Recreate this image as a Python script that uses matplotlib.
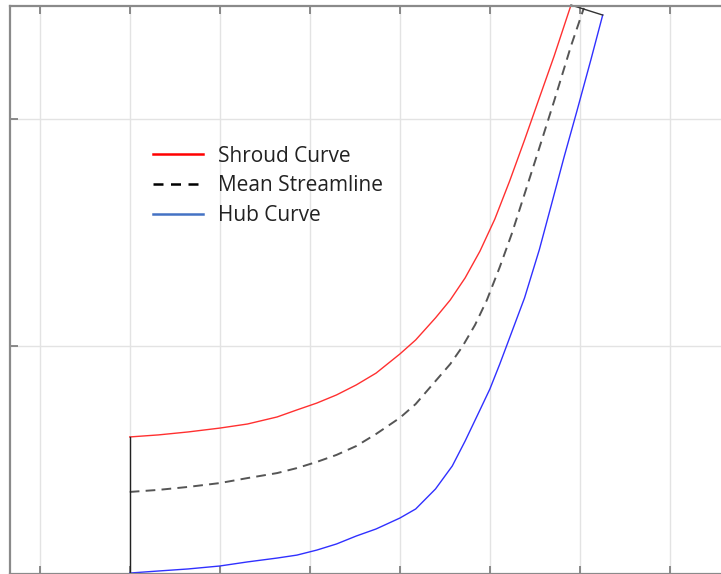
import matplotlib
matplotlib.use("Agg")
import matplotlib.pyplot as plt
from matplotlib.lines import Line2D
import numpy as np

# Meridional channel data (axial coordinate x, radial coordinate y)
shroud_x = [1.000, 1.319, 1.648, 2.000, 2.308, 2.637, 2.857, 3.077, 3.297, 3.516, 3.736, 4.000,
            4.176, 4.396, 4.560, 4.725, 4.890, 5.055, 5.220, 5.385, 5.549, 5.714, 5.901]
shroud_y = [0.601, 0.610, 0.623, 0.640, 0.658, 0.689, 0.720, 0.750, 0.786, 0.830, 0.882, 0.966,
            1.028, 1.125, 1.204, 1.301, 1.419, 1.560, 1.728, 1.908, 2.093, 2.278, 2.502]

mean_x = [1.000, 1.319, 1.648, 2.000, 2.308, 2.637, 2.857, 3.077, 3.297, 3.516, 3.736, 4.000,
          4.176, 4.396, 4.560, 4.692, 4.835, 4.967, 5.110, 5.242, 5.385, 5.549, 5.714, 5.901, 6.044]
mean_y = [0.359, 0.368, 0.381, 0.398, 0.420, 0.442, 0.464, 0.491, 0.522, 0.561, 0.614, 0.685,
          0.746, 0.847, 0.922, 0.997, 1.094, 1.204, 1.349, 1.494, 1.670, 1.873, 2.080, 2.322, 2.489]

hub_x = [1.000, 1.319, 1.648, 2.000, 2.308, 2.637, 2.857, 3.077, 3.297, 3.516, 3.736, 4.000,
         4.176, 4.396, 4.582, 4.725, 4.890, 5.000, 5.110, 5.198, 5.297, 5.385, 5.549, 5.681,
         5.824, 5.967, 6.121, 6.253]
hub_y = [0.002, 0.011, 0.020, 0.033, 0.051, 0.068, 0.081, 0.103, 0.130, 0.165, 0.196, 0.244,
         0.284, 0.372, 0.473, 0.583, 0.720, 0.812, 0.922, 1.015, 1.120, 1.213, 1.425, 1.620,
         1.833, 2.036, 2.260, 2.458]

legend_labels = ["Shroud Curve", "Mean Streamline", "Hub Curve"]

W, H = 721, 574
fig = plt.figure(figsize=(W / 100, H / 100), dpi=100)
fig.patch.set_facecolor("white")

# axes geometry in pixels (axes extends past the right edge of the picture)
left_px, right_px, top_px, bottom_px = 10, 760, 5.5, 573.5
ax = fig.add_axes([left_px / W, (H - bottom_px) / H, (right_px - left_px) / W, (bottom_px - top_px) / H])
ax.set_xlim((left_px - 40) / 91.0, (right_px - 40) / 91.0)
ax.set_ylim(0, 2.5)
ax.set_xticks(np.arange(0, 9))
ax.set_yticks([0, 1, 2])
ax.set_xticklabels([])
ax.set_yticklabels([])
ax.grid(True, color="#e3e3e3", linewidth=1.0)
ax.set_axisbelow(True)
ax.tick_params(direction="in", length=6, width=1.2, color="#777777",
               top=True, bottom=True, left=True, right=True)
for s in ax.spines.values():
    s.set_color("#8a8a8a")
    s.set_linewidth(1.6)

ax.plot(shroud_x, shroud_y, color="#ff3030", linewidth=1.0)
ax.plot(mean_x, mean_y, color="#555555", linewidth=1.4, linestyle=(0, (5, 3.2)))
ax.plot(hub_x, hub_y, color="#3030ff", linewidth=1.0)
# inlet and outlet edges
ax.plot([hub_x[0], shroud_x[0]], [hub_y[0], shroud_y[0]], color="#222222", linewidth=1.0)
ax.plot([shroud_x[-1], hub_x[-1]], [shroud_y[-1], hub_y[-1]], color="#333333", linewidth=1.0, clip_on=False)

fs = 15
fpx = fs * 100 / 72
handles = [
    Line2D([], [], color="#ff0000", linewidth=1.8),
    Line2D([], [], color="#000000", linewidth=1.8, linestyle=(0, (4, 3))),
    Line2D([], [], color="#4472c4", linewidth=1.8),
]
leg = ax.legend(handles, legend_labels, loc="upper left",
                bbox_to_anchor=(153 / W, (H - 145.5) / H), bbox_transform=fig.transFigure,
                frameon=False, borderpad=0, borderaxespad=0,
                handlelength=50 / fpx, handletextpad=15 / fpx, labelspacing=0.42,
                prop={"family": ["Open Sans", "DejaVu Sans"], "size": fs})
for t in leg.get_texts():
    t.set_color("#222222")

fig.savefig("out.png", dpi=100)
